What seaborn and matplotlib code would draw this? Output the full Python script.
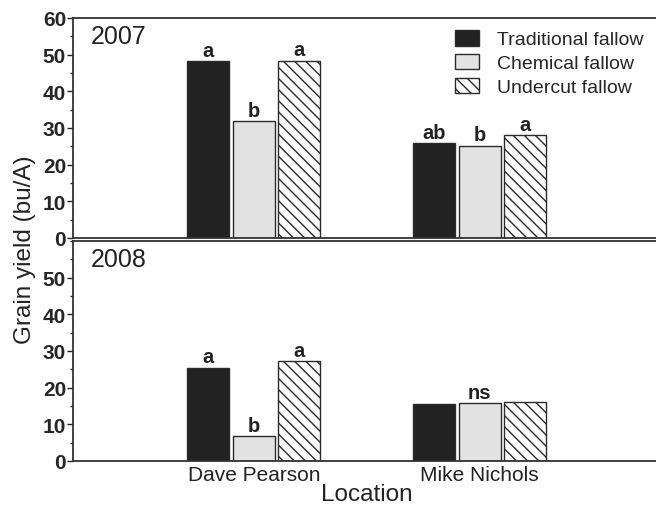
import matplotlib
matplotlib.use("Agg")
import matplotlib.pyplot as plt
from matplotlib.patches import Patch
from matplotlib.ticker import MultipleLocator
import seaborn as sns
import pandas as pd

locations = ["Dave Pearson", "Mike Nichols"]
treatments = ["Traditional fallow", "Chemical fallow", "Undercut fallow"]
years = ["2007", "2008"]
yield_2007 = {"Traditional fallow": [48.2, 25.8],
              "Chemical fallow": [32.0, 25.2],
              "Undercut fallow": [48.4, 28.1]}
yield_2008 = {"Traditional fallow": [25.5, 15.6],
              "Chemical fallow": [6.7, 15.7],
              "Undercut fallow": [27.3, 16.0]}
letters_2007 = {"Traditional fallow": ["a", "ab"],
                "Chemical fallow": ["b", "b"],
                "Undercut fallow": ["a", "a"]}
letters_2008 = {"Traditional fallow": ["a", ""],
                "Chemical fallow": ["b", "ns"],
                "Undercut fallow": ["a", ""]}

colors = {"Traditional fallow": "#222222",
          "Chemical fallow": "#e2e2e2",
          "Undercut fallow": "#ffffff"}
hatches = {"Traditional fallow": "", "Chemical fallow": "", "Undercut fallow": "\\\\\\"}

sns.set_style("white")
plt.rcParams["font.family"] = ["Liberation Sans", "DejaVu Sans"]
plt.rcParams["hatch.linewidth"] = 1.0
plt.rcParams["hatch.color"] = "#222222"

fig = plt.figure(figsize=(6.56, 5.06), dpi=100)
W = 656; H = 506
left = 73 / W
right = 660.5 / W
ax_top = fig.add_axes([left, 1 - 239 / H, right - left, (239 - 19) / H])
ax_bot = fig.add_axes([left, 1 - 462 / H, right - left, (462 - 242) / H])

edge = "#2a2a2a"
for ax, vals, letters, yr in [(ax_top, yield_2007, letters_2007, "2007"),
                               (ax_bot, yield_2008, letters_2008, "2008")]:
    rows = []
    for t in treatments:
        for loc, v in zip(locations, vals[t]):
            rows.append({"Location": loc, "Treatment": t, "Yield": v})
    df = pd.DataFrame(rows)
    sns.barplot(data=df, x="Location", y="Yield", hue="Treatment",
                order=locations, hue_order=treatments, palette=colors,
                width=0.604, gap=0.08, edgecolor=edge, linewidth=1.0,
                legend=False, ax=ax, errorbar=None)
    for cont, t in zip(ax.containers, treatments):
        for bar, lab in zip(cont, letters[t]):
            bar.set_hatch(hatches[t])
            if lab:
                ax.text(bar.get_x() + bar.get_width() / 2, bar.get_height() + 0.3, lab,
                        ha="center", va="bottom", fontsize=14.5, fontweight="bold",
                        color="#222222")
    ax.set_xlim(-0.8, 1.8)
    ax.set_ylim(0, 60)
    ax.yaxis.set_major_locator(MultipleLocator(10))
    ax.yaxis.set_minor_locator(MultipleLocator(5))
    ax.tick_params(axis="y", which="major", direction="out", length=4, width=1,
                   labelsize=15, color="#222222", pad=1, left=True)
    ax.tick_params(axis="y", which="minor", direction="out", length=2.5, width=1,
                   color="#222222", left=True)
    for lbl in ax.get_yticklabels():
        lbl.set_fontweight("bold")
    ax.tick_params(axis="x", length=0, labelsize=15, colors="#222222", pad=3)
    ax.set_ylabel("")
    ax.set_xlabel("")
    for s in ["top", "bottom", "left"]:
        ax.spines[s].set_visible(True)
        ax.spines[s].set_color("#333333")
        ax.spines[s].set_linewidth(1.3)
    ax.spines["right"].set_visible(False)
    ax.text(-0.72, 55, yr, ha="left", va="center", fontsize=18, color="#222222")

ax_top.set_xticklabels([])
ax_bot.set_yticks([0, 10, 20, 30, 40, 50])
for lbl in ax_bot.get_yticklabels():
    lbl.set_fontweight("bold")
ax_bot.set_xlabel("Location", fontsize=17.5, color="#222222", labelpad=-1)

fig.text(25 / W, 1 - 250 / H, "Grain yield (bu/A)", rotation=90, ha="center",
         va="center", fontsize=17.5, color="#222222")

handles = [Patch(facecolor=colors[t], edgecolor=edge, hatch=hatches[t], linewidth=1.0)
           for t in treatments]
ax_top.legend(handles, treatments, loc="upper left",
              bbox_to_anchor=(455 / W, 1 - 31 / H), bbox_transform=fig.transFigure,
              frameon=False, fontsize=14, handlelength=1.25, handleheight=0.85,
              handletextpad=0.9, labelspacing=0.28, borderpad=0, borderaxespad=0)

fig.savefig("out.png", dpi=100)
